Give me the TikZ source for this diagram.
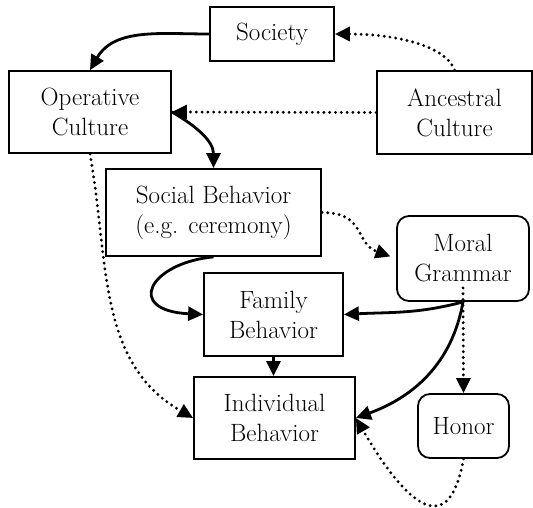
\documentclass[tikz,border=0pt]{standalone}
\usetikzlibrary{arrows.meta,calc}
\begin{document}
\begin{tikzpicture}[x=1pt,y=-1pt,
  box/.style={draw,line width=1.8pt,inner sep=0pt,align=center,font=\fontsize{25}{30}\selectfont},
  rbox/.style={box,rounded corners=12pt},
  tip/.style={-{Triangle[length=15pt,width=14pt]}},
  solidarrow/.style={tip,line width=2.8pt},
  dotarrow/.style={tip,line width=3.2pt,line cap=round,dash pattern=on 0pt off 5.8pt}]
\useasboundingbox (0,0) rectangle (533,508);
\node[box,minimum width=124pt,minimum height=54pt] (soc) at (272,34) {Society};
\node[box,minimum width=162pt,minimum height=82pt] (op) at (90,112) {Operative\\Culture};
\node[box,minimum width=155pt,minimum height=83pt] (anc) at (454.5,112.5) {Ancestral\\Culture};
\node[box,minimum width=215pt,minimum height=87pt] (sb) at (213.5,212.5) {Social Behavior\\(e.g. ceremony)};
\node[rbox,minimum width=132pt,minimum height=85pt] (mg) at (463,258.5) {Moral\\Grammar};
\node[box,minimum width=139pt,minimum height=83pt] (fb) at (273.5,314.5) {Family\\Behavior};
\node[box,minimum width=161pt,minimum height=82pt] (ib) at (274.5,418) {Individual\\Behavior};
\node[rbox,minimum width=91pt,minimum height=64pt] (hon) at (463.5,426) {Honor};
\coordinate (mgdot) at ($(mg.south)+(0,-14)$);
% connectors
\draw[solidarrow] (soc.west) to[out=180,in=60] (op.north);
\draw[dotarrow] (anc.north) .. controls +(-9.5,-26) and +(56,0) .. (soc.east);
\draw[dotarrow] (anc.west) -- (op.east);
\draw[solidarrow] (op.east) to[out=-30,in=90] (sb.north);
\draw[dotarrow] (op.south) to[out=-80,in=150] (ib.west);
\draw[dotarrow,shorten >=6pt] (sb.east) to[out=0,in=160,looseness=1.3] (mg.west);
\draw[solidarrow] (sb.south) .. controls +(-64,6) and +(-79,-4) .. (fb.west);
\draw[solidarrow] (mg.south) to[out=195,in=3] (fb.east);
\draw[solidarrow] (mg.south) to[out=-100,in=20] (ib.east);
\draw[dotarrow] (mgdot) -- (hon.north);
\draw[solidarrow] (fb.south) -- (fb.south |- ib.north);
\draw[dotarrow] (hon.south) to[out=-100,in=-60,looseness=2] (ib.east);
\end{tikzpicture}
\end{document}
